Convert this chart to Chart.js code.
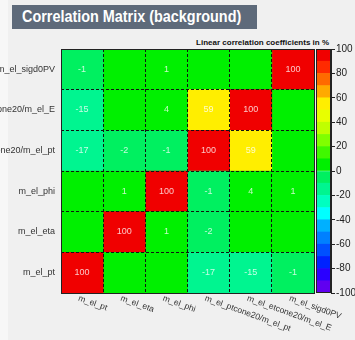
<!DOCTYPE html>
<html>
<head>
<meta charset="utf-8">
<script src="https://cdn.jsdelivr.net/npm/chart.js@4.4.1/dist/chart.umd.min.js"></script>
<style>
  html, body { margin: 0; padding: 0; }
  body {
    width: 355px; height: 340px; position: relative; overflow: hidden;
    background: #f0f0f0;
    font-family: "Liberation Sans", Arial, sans-serif;
  }
  #edge { position: absolute; left: 0; top: 0; width: 8px; height: 340px; background: #f7f7f7; }
  #title {
    position: absolute; left: 12px; top: 5px; width: 245px; height: 24px;
    background: #5e6a7a;
  }
  #title span {
    position: absolute; left: 10px; top: 3px; color: #fff;
    font-weight: bold; font-size: 16px; line-height: 18px; white-space: nowrap;
    transform: scaleX(0.9); transform-origin: left center;
  }
  #subtitle {
    position: absolute; right: 26px; top: 39px; color: #111;
    font-weight: bold; font-size: 8px; line-height: 8px; white-space: nowrap;
  }
  #main { position: absolute; left: 0; top: 0; width: 355px; height: 340px; }
  #scale { position: absolute; left: 300px; top: 40px; width: 55px; height: 265px; }
</style>
</head>
<body>
<div id="edge"></div>
<div id="title"><span>Correlation Matrix (background)</span></div>
<div id="subtitle">Linear correlation coefficients in %</div>
<div id="main"><canvas id="matrixChart"></canvas></div>
<div id="scale"><canvas id="paletteChart"></canvas></div>
<script>
// variables along the x axis (left to right)
const columns = ['m_el_pt', 'm_el_eta', 'm_el_phi', 'm_el_ptcone20/m_el_pt', 'm_el_etcone20/m_el_E', 'm_el_sigd0PV'];
// variables along the y axis (top to bottom)
const rows = ['m_el_sigd0PV', 'm_el_etcone20/m_el_E', 'm_el_ptcone20/m_el_pt', 'm_el_phi', 'm_el_eta', 'm_el_pt'];

// correlation coefficients in %, one row per variable, same order as columns
const sigd0PV = [-1, 0, 1, 0, 0, 100];
const etcone = [-15, 0, 4, 59, 100, 0];
const ptcone = [-17, -2, -1, 100, 59, 0];
const phi = [0, 1, 100, -1, 4, 1];
const eta = [0, 100, 1, -2, 0, 0];
const pt = [100, 0, 0, -17, -15, -1];
const matrix = [sigd0PV, etcone, ptcone, phi, eta, pt];

// colour levels of the z palette
const levels = [-100, -90, -80, -70, -60, -50, -40, -30, -20, -10, 0, 10, 20, 30, 40, 50, 60, 70, 80, 90, 100];
const palette = [
    '#6000f0', '#2a00ff', '#0022ff', '#0050ff', '#0080ff',
    '#00b0ff', '#00ffff', '#00ffc0', '#00f590', '#00f060',
    '#00f000', '#40f800', '#80ff00', '#c0ff00', '#e8ff00',
    '#ffee00', '#ffaa00', '#ff6a00', '#ff2a00', '#f00000'
];

Chart.defaults.font.family = '"Liberation Sans", Arial, sans-serif';
Chart.defaults.animation = false;

function colorFor(v) {
    let i = levels.findIndex((lv, k) => k < levels.length - 1 && v >= lv && v < levels[k + 1]);
    if (i < 0) i = palette.length - 1;
    return palette[i];
}

// numbers printed inside each cell (zeros left blank)
const cellText = {
    id: 'cellText',
    afterDatasetsDraw(chart) {
        const { ctx, scales: { x, y } } = chart;
        ctx.save();
        ctx.font = '9px "Liberation Sans", Arial';
        ctx.fillStyle = 'rgba(255, 255, 255, 0.78)';
        ctx.textAlign = 'center';
        ctx.textBaseline = 'middle';
        matrix.forEach((row, r) => row.forEach((v, c) => {
            if (v === 0) return;
            ctx.fillText(String(v), x.getPixelForValue(c + 0.5), y.getPixelForValue(r));
        }));
        ctx.restore();
    }
};

// slanted column names under the frame, plus the frame itself
const frameAndLabels = {
    id: 'frameAndLabels',
    afterDraw(chart) {
        const { ctx, chartArea: a, scales: { x } } = chart;
        ctx.save();
        ctx.strokeStyle = '#222';
        ctx.lineWidth = 1;
        ctx.strokeRect(a.left + 0.5, a.top + 0.5, a.right - a.left, a.bottom - a.top);
        ctx.font = '8.5px "Liberation Sans", Arial';
        ctx.fillStyle = '#333';
        ctx.textAlign = 'left';
        ctx.textBaseline = 'top';
        columns.forEach((name, c) => {
            ctx.save();
            ctx.translate(x.getPixelForValue(c + 0.5) - 2, a.bottom + 1);
            ctx.rotate(20 * Math.PI / 180);
            ctx.fillText(name, 0, 0);
            ctx.restore();
        });
        ctx.restore();
    }
};

// dashed lines only between cells; the outer edge is the solid frame
const NONE = 'rgba(0, 0, 0, 0)';
const xGridColor = c => (c.tick && c.tick.value > 0 && c.tick.value < 6) ? '#111' : NONE;
const yGridColor = c => (c.type === 'tick' && c.index > 0) ? '#111' : NONE;
const dashedBorder = { display: false, dash: [3, 2] };

new Chart(document.getElementById('matrixChart'), {
    type: 'bar',
    data: {
        labels: rows,
        datasets: columns.map((name, c) => ({
            label: name,
            data: rows.map(() => [c, c + 1]),
            backgroundColor: matrix.map(row => colorFor(row[c])),
            grouped: false,
            barPercentage: 1,
            categoryPercentage: 1,
            borderWidth: 0
        }))
    },
    options: {
        indexAxis: 'y',
        responsive: true,
        maintainAspectRatio: false,
        events: [],
        layout: { padding: { left: 0, top: 49, right: 41, bottom: 47 } },
        scales: {
            x: {
                type: 'linear',
                min: 0,
                max: 6,
                ticks: { stepSize: 1, display: false },
                grid: { color: xGridColor, lineWidth: 1, drawTicks: false, z: 1 },
                border: dashedBorder,
                afterFit: s => { s.height = 0; }
            },
            y: {
                type: 'category',
                offset: true,
                grid: { color: yGridColor, lineWidth: 1, drawTicks: false, offset: true, z: 1 },
                border: dashedBorder,
                ticks: { color: '#333', font: { size: 9 }, padding: 6, autoSkip: false },
                afterFit: s => { s.width = 61; }
            }
        },
        plugins: {
            legend: { display: false },
            tooltip: { enabled: false }
        }
    },
    plugins: [cellText, frameAndLabels]
});

// palette bar at the right with its own -100..100 axis
const paletteFrame = {
    id: 'paletteFrame',
    afterDraw(chart) {
        const { ctx, chartArea: a } = chart;
        ctx.save();
        ctx.strokeStyle = '#222';
        ctx.strokeRect(a.left + 0.5, a.top + 0.5, a.right - a.left - 1, a.bottom - a.top - 1);
        ctx.restore();
    }
};

new Chart(document.getElementById('paletteChart'), {
    type: 'bar',
    data: {
        labels: [''],
        datasets: palette.map((color, i) => ({
            data: [[levels[i], levels[i + 1]]],
            backgroundColor: color,
            grouped: false,
            barPercentage: 1,
            categoryPercentage: 1,
            borderWidth: 0
        }))
    },
    options: {
        responsive: true,
        maintainAspectRatio: false,
        events: [],
        layout: { padding: { left: 16, top: 9, right: 0, bottom: 12 } },
        scales: {
            x: { display: false },
            y: {
                position: 'right',
                min: -100,
                max: 100,
                ticks: { stepSize: 20, color: '#222', font: { size: 10 }, padding: 1 },
                grid: { drawOnChartArea: false, tickLength: 4, tickColor: '#222' },
                border: { color: '#222' },
                afterFit: s => { s.width = 24; }
            }
        },
        plugins: {
            legend: { display: false },
            tooltip: { enabled: false }
        }
    },
    plugins: [paletteFrame]
});
</script>
</body>
</html>
